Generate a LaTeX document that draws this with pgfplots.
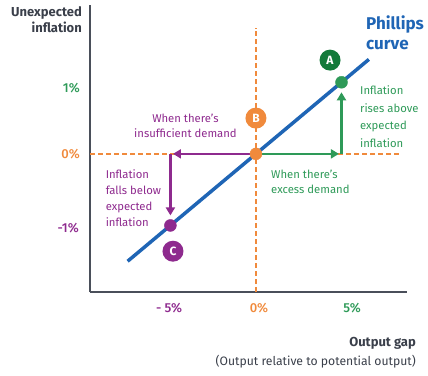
\documentclass[border=0pt]{standalone}
\usepackage{pgfplots}
\pgfplotsset{compat=1.18}
\usepackage{fontspec}
\setmainfont{Fira Sans}
\newfontfamily\medfont{Fira Sans}[UprightFont={* Medium}]
\usetikzlibrary{arrows.meta}
\definecolor{pblue}{HTML}{1F65B5}
\definecolor{porange}{HTML}{F08A3C}
\definecolor{pgreen}{HTML}{2E9A58}
\definecolor{dgreen}{HTML}{137A3A}
\definecolor{ppurple}{HTML}{8E2A8E}
\definecolor{axgray}{HTML}{4A4F5A}
\definecolor{txtgray}{HTML}{3A3F4A}
\begin{document}
\begin{tikzpicture}[x=1pt,y=1pt]
\path[use as bounding box] (0,0) rectangle (428,375);
\begin{axis}[at={(90pt,83pt)}, anchor=south west, scale only axis,
  width=317pt, height=287pt,
  xmin=-9.7, xmax=8.83, ymin=-1.93, ymax=2.08,
  axis lines=left, axis line style={-, axgray, line width=1.8pt},
  xtick=\empty, ytick=\empty, clip=false]
\addplot[porange, line width=1.6pt, dash pattern=on 5pt off 3pt] coordinates {(-9.7,0) (8.36,0)};
\addplot[porange, line width=1.6pt, dash pattern=on 5pt off 3pt] coordinates {(0,-1.93) (0,1.76)};
\addplot[pblue, line width=3.5pt] coordinates {(-7.5,-1.5) (6.6,1.32)};
\addplot[ppurple, line width=2.4pt, -{Triangle[length=8pt,width=9pt]}] coordinates {(0,0) (-4.85,0)};
\addplot[ppurple, line width=2.4pt, -{Triangle[length=8pt,width=9pt]}] coordinates {(-5,0) (-5,-0.86)};
\addplot[pgreen, line width=2.4pt, -{Triangle[length=8pt,width=9pt]}] coordinates {(0,0) (4.85,0)};
\addplot[pgreen, line width=2.4pt, -{Triangle[length=8pt,width=9pt]}] coordinates {(5,0) (5,0.86)};
\addplot[only marks, mark=*, mark size=6pt, ppurple] coordinates {(-5,-1)};
\addplot[only marks, mark=*, mark size=6pt, porange] coordinates {(0,0)};
\addplot[only marks, mark=*, mark size=6pt, pgreen] coordinates {(5,1)};
\node[circle, fill=porange, text=white, font=\bfseries\fontsize{12}{12}\selectfont, minimum size=21pt, inner sep=0pt] at (axis cs:0,0.5) {B};
\node[circle, fill=dgreen, text=white, font=\bfseries\fontsize{12}{12}\selectfont, minimum size=21pt, inner sep=0pt] at (axis cs:4.33,1.31) {A};
\node[circle, fill=ppurple, text=white, font=\bfseries\fontsize{12}{12}\selectfont, minimum size=21pt, inner sep=0pt] at (axis cs:-4.85,-1.36) {C};
\node[ppurple, align=center, font=\fontsize{11.3}{15}\selectfont, inner sep=0pt] at (axis cs:-4.12,0.385) {When there's\\insufficient demand};
\node[pgreen, align=left, anchor=west, font=\fontsize{11.3}{15}\selectfont, inner sep=0pt] at (axis cs:0.88,-0.39) {When there's\\excess demand};
\node[pgreen, align=left, anchor=west, font=\fontsize{11.3}{17.5}\selectfont, inner sep=0pt] at (axis cs:6.08,0.52) {Inflation\\rises above\\expected\\inflation};
\node[ppurple, align=left, anchor=west, font=\fontsize{11.3}{16}\selectfont, inner sep=0pt] at (axis cs:-8.79,-0.615) {Inflation\\falls below\\expected\\inflation};
\end{axis}
% tick labels
\begin{scope}[every node/.style={font=\medfont\fontsize{13}{13}\selectfont, inner sep=0pt}]
\node[pgreen, anchor=east] at (80,375-88) {1\%};
\node[porange, anchor=east] at (80,375-154) {0\%};
\node[ppurple, anchor=east] at (79,375-228) {-1\%};
\node[ppurple] at (169,375-308) {- 5\%};
\node[porange] at (259,375-308) {0\%};
\node[pgreen] at (352,375-308) {5\%};
\end{scope}
\node[txtgray, anchor=east, align=right, font=\bfseries\fontsize{13}{16}\selectfont, inner sep=0pt] at (82,375-20) {Unexpected\\inflation};
\node[pblue, anchor=west, align=left, font=\bfseries\fontsize{17}{20}\selectfont, inner sep=0pt] at (366,375-33) {Phillips\\curve};
\node[txtgray, anchor=east, font=\bfseries\fontsize{13}{13}\selectfont, inner sep=0pt] at (416,375-343) {Output gap};
\node[txtgray, anchor=east, font=\fontsize{12.2}{13}\selectfont, inner sep=0pt] at (416,375-362) {(Output relative to potential output)};
\end{tikzpicture}
\end{document}
